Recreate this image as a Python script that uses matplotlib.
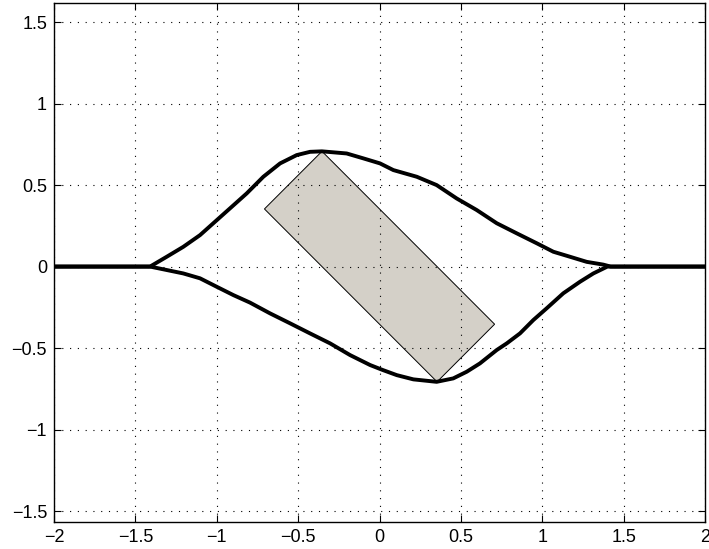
import numpy as np
import matplotlib.pyplot as plt
from matplotlib.patches import Rectangle

plt.rcParams['font.family'] = ['Liberation Sans', 'DejaVu Sans']

# upper envelope
x_up = [-2.0, -1.41, -1.308, -1.206, -1.103, -0.919, -0.816, -0.714, -0.611, -0.509,
        -0.427, -0.354, -0.202, -0.100, 0.003, 0.085, 0.229, 0.351, 0.474, 0.597,
        0.720, 0.843, 0.966, 1.068, 1.171, 1.273, 1.375, 1.42, 2.0]
y_up = [0.0, 0.0, 0.060, 0.121, 0.193, 0.357, 0.449, 0.551, 0.633, 0.684,
        0.704, 0.707, 0.694, 0.664, 0.633, 0.592, 0.551, 0.500, 0.418, 0.347,
        0.266, 0.204, 0.143, 0.091, 0.060, 0.029, 0.012, 0.0, 0.0]

# lower envelope
x_lo = [-2.0, -1.41, -1.308, -1.206, -1.103, -1.000, -0.898, -0.796, -0.673, -0.550,
        -0.427, -0.304, -0.181, -0.058, 0.021, 0.106, 0.208, 0.351, 0.453, 0.536,
        0.617, 0.720, 0.782, 0.863, 0.945, 1.027, 1.129, 1.232, 1.314, 1.40, 2.0]
y_lo = [0.0, 0.0, -0.021, -0.042, -0.072, -0.124, -0.175, -0.221, -0.287, -0.348,
        -0.410, -0.471, -0.543, -0.604, -0.635, -0.666, -0.692, -0.707, -0.686, -0.645,
        -0.594, -0.512, -0.471, -0.410, -0.328, -0.256, -0.164, -0.093, -0.042, 0.0, 0.0]

# plate
plate_center = (0.0, 0.0)
plate_length = 1.5
plate_width = 0.5
plate_angle = -45.0

fig = plt.figure(figsize=(7.09, 5.49), dpi=100)
ax = fig.add_axes([0.0762, 0.0492, 0.9182, 0.9453])

ax.add_patch(Rectangle((plate_center[0] - plate_length / 2, plate_center[1] - plate_width / 2),
                       plate_length, plate_width, angle=plate_angle, rotation_point='center',
                       facecolor='#D4D0C8', edgecolor='black', linewidth=0.7, zorder=1))

ax.plot(x_up, y_up, color='black', linewidth=2.8, zorder=3)
ax.plot(x_lo, y_lo, color='black', linewidth=2.8, zorder=3)

ax.set_xlim(-2, 2)
ax.set_ylim(-1.567, 1.617)
ax.set_xticks(np.arange(-2, 2.01, 0.5))
ax.set_yticks(np.arange(-1.5, 1.51, 0.5))
ax.set_xticklabels(['\u22122', '\u22121.5', '\u22121', '\u22120.5', '0', '0.5', '1', '1.5', '2'])
ax.set_yticklabels(['\u22121.5', '\u22121', '\u22120.5', '0', '0.5', '1', '1.5'])

ax.set_axisbelow(False)
ax.grid(True, linestyle=(0, (1, 6)), color='black', linewidth=0.8)
ax.tick_params(direction='in', length=5, top=True, right=True, labelsize=13, width=0.8, pad=5)
for s in ax.spines.values():
    s.set_linewidth(1.0)

plt.savefig('out.png', dpi=100)
